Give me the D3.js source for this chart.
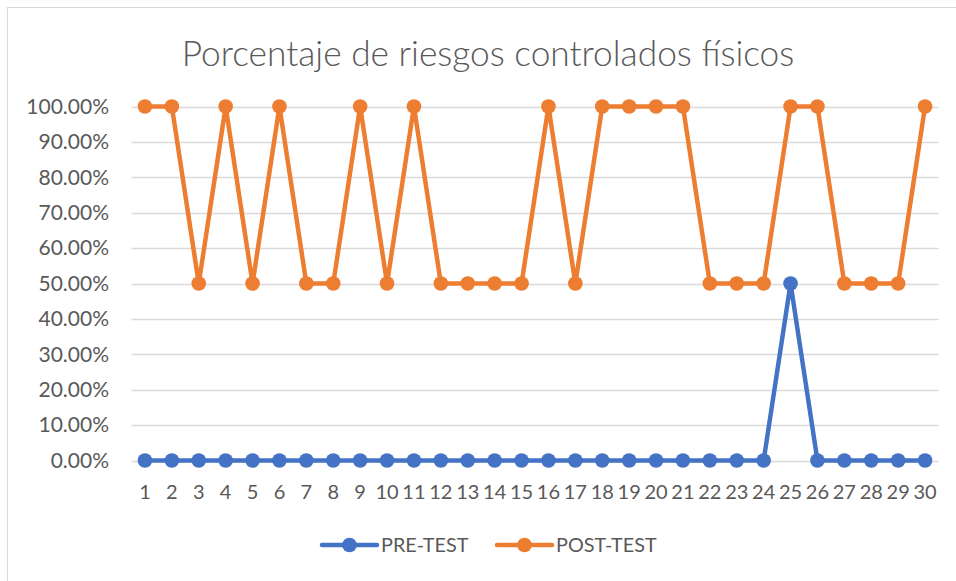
<!DOCTYPE html>
<html>
<head>
<meta charset="utf-8">
<script src="https://cdn.jsdelivr.net/npm/d3@7"></script>
<style>
  body { margin: 0; background: #fff; }
  svg { display: block; font-family: Lato, "Open Sans", sans-serif; }
</style>
</head>
<body>
<div class="container"></div>
<script>
// categorías del eje x
const categories = d3.range(1, 31).map(String);
// valores de cada serie (fracción)
const preTest = [0, 0, 0, 0, 0, 0, 0, 0, 0, 0, 0, 0, 0, 0, 0, 0, 0, 0, 0, 0, 0, 0, 0, 0, 0.5, 0, 0, 0, 0, 0];
const postTest = [1, 1, 0.5, 1, 0.5, 1, 0.5, 0.5, 1, 0.5, 1, 0.5, 0.5, 0.5, 0.5, 1, 0.5, 1, 1, 1, 1, 0.5, 0.5, 0.5, 1, 1, 0.5, 0.5, 0.5, 1];
const yTicks = [0, 0.1, 0.2, 0.3, 0.4, 0.5, 0.6, 0.7, 0.8, 0.9, 1];
const seriesNames = ["PRE-TEST", "POST-TEST"];

function drawChart() {
    let width = 956;
    let height = 581;
    let colors = ["#4472C4", "#ED7D31"];

    let svg = d3.select(".container").append("svg")
        .attr("width", width)
        .attr("height", height);

    // marco del gráfico
    svg.append("rect")
        .attr("x", 7.5).attr("y", 7.5)
        .attr("width", 960).attr("height", 600)
        .attr("fill", "#fff")
        .attr("stroke", "#d9d9d9");

    // título
    svg.append("text")
        .attr("x", 488).attr("y", 66)
        .attr("text-anchor", "middle")
        .attr("fill", "#595959")
        .attr("font-size", 35.3)
        .attr("font-weight", 300)
        .text("Porcentaje de riesgos controlados físicos");

    let x = d3.scaleBand()
        .domain(categories)
        .range([131.5, 938.5]);

    let y = d3.scaleLinear()
        .domain([0, 1])
        .range([460.5, 106.5]);

    // líneas de cuadrícula
    svg.append("g")
        .selectAll("line")
        .data(yTicks)
        .enter()
        .append("line")
        .attr("x1", 131.5).attr("x2", 938.5)
        .attr("y1", d => Math.round(y(d)) + 0.5)
        .attr("y2", d => Math.round(y(d)) + 0.5)
        .attr("stroke", "#d9d9d9")
        .attr("stroke-width", 1.3);

    // eje y
    let yAxis = svg.append("g")
        .attr("transform", "translate(131,0)")
        .call(d3.axisLeft(y).tickValues(yTicks).tickFormat(d3.format(".2%")).tickSize(0).tickPadding(22));
    yAxis.select(".domain").remove();
    yAxis.selectAll("text")
        .attr("fill", "#595959")
        .attr("font-size", 21)
        .attr("font-family", "Lato, sans-serif");

    // eje x
    let xAxis = svg.append("g")
        .attr("transform", "translate(0,461)")
        .call(d3.axisBottom(x).tickSize(0).tickPadding(24));
    xAxis.select(".domain").remove();
    xAxis.selectAll("text")
        .attr("fill", "#595959")
        .attr("font-size", 20)
        .attr("font-family", "Lato, sans-serif");

    let line = d3.line()
        .x((d, i) => x(categories[i]) + x.bandwidth() / 2)
        .y(d => y(d));

    [preTest, postTest].forEach((values, s) => {
        let g = svg.append("g");
        g.append("path")
            .attr("d", line(values))
            .attr("fill", "none")
            .attr("stroke", colors[s])
            .attr("stroke-width", 4.5)
            .attr("stroke-linejoin", "round");
        g.selectAll("circle")
            .data(values)
            .enter()
            .append("circle")
            .attr("cx", (d, i) => x(categories[i]) + x.bandwidth() / 2)
            .attr("cy", d => y(d))
            .attr("r", 7.3)
            .attr("fill", colors[s]);
    });

    // leyenda
    let legendX = [322, 497];
    seriesNames.forEach((name, i) => {
        let g = svg.append("g").attr("transform", "translate(" + legendX[i] + ",545)");
        g.append("line")
            .attr("x1", 0).attr("x2", 55)
            .attr("stroke", colors[i])
            .attr("stroke-width", 4.5)
            .attr("stroke-linecap", "round");
        g.append("circle")
            .attr("cx", 27.5).attr("r", 7.3)
            .attr("fill", colors[i]);
        g.append("text")
            .attr("x", 59).attr("y", 7)
            .attr("fill", "#595959")
            .attr("font-size", 19.8)
            .text(name);
    });
}

drawChart();
</script>
</body>
</html>
